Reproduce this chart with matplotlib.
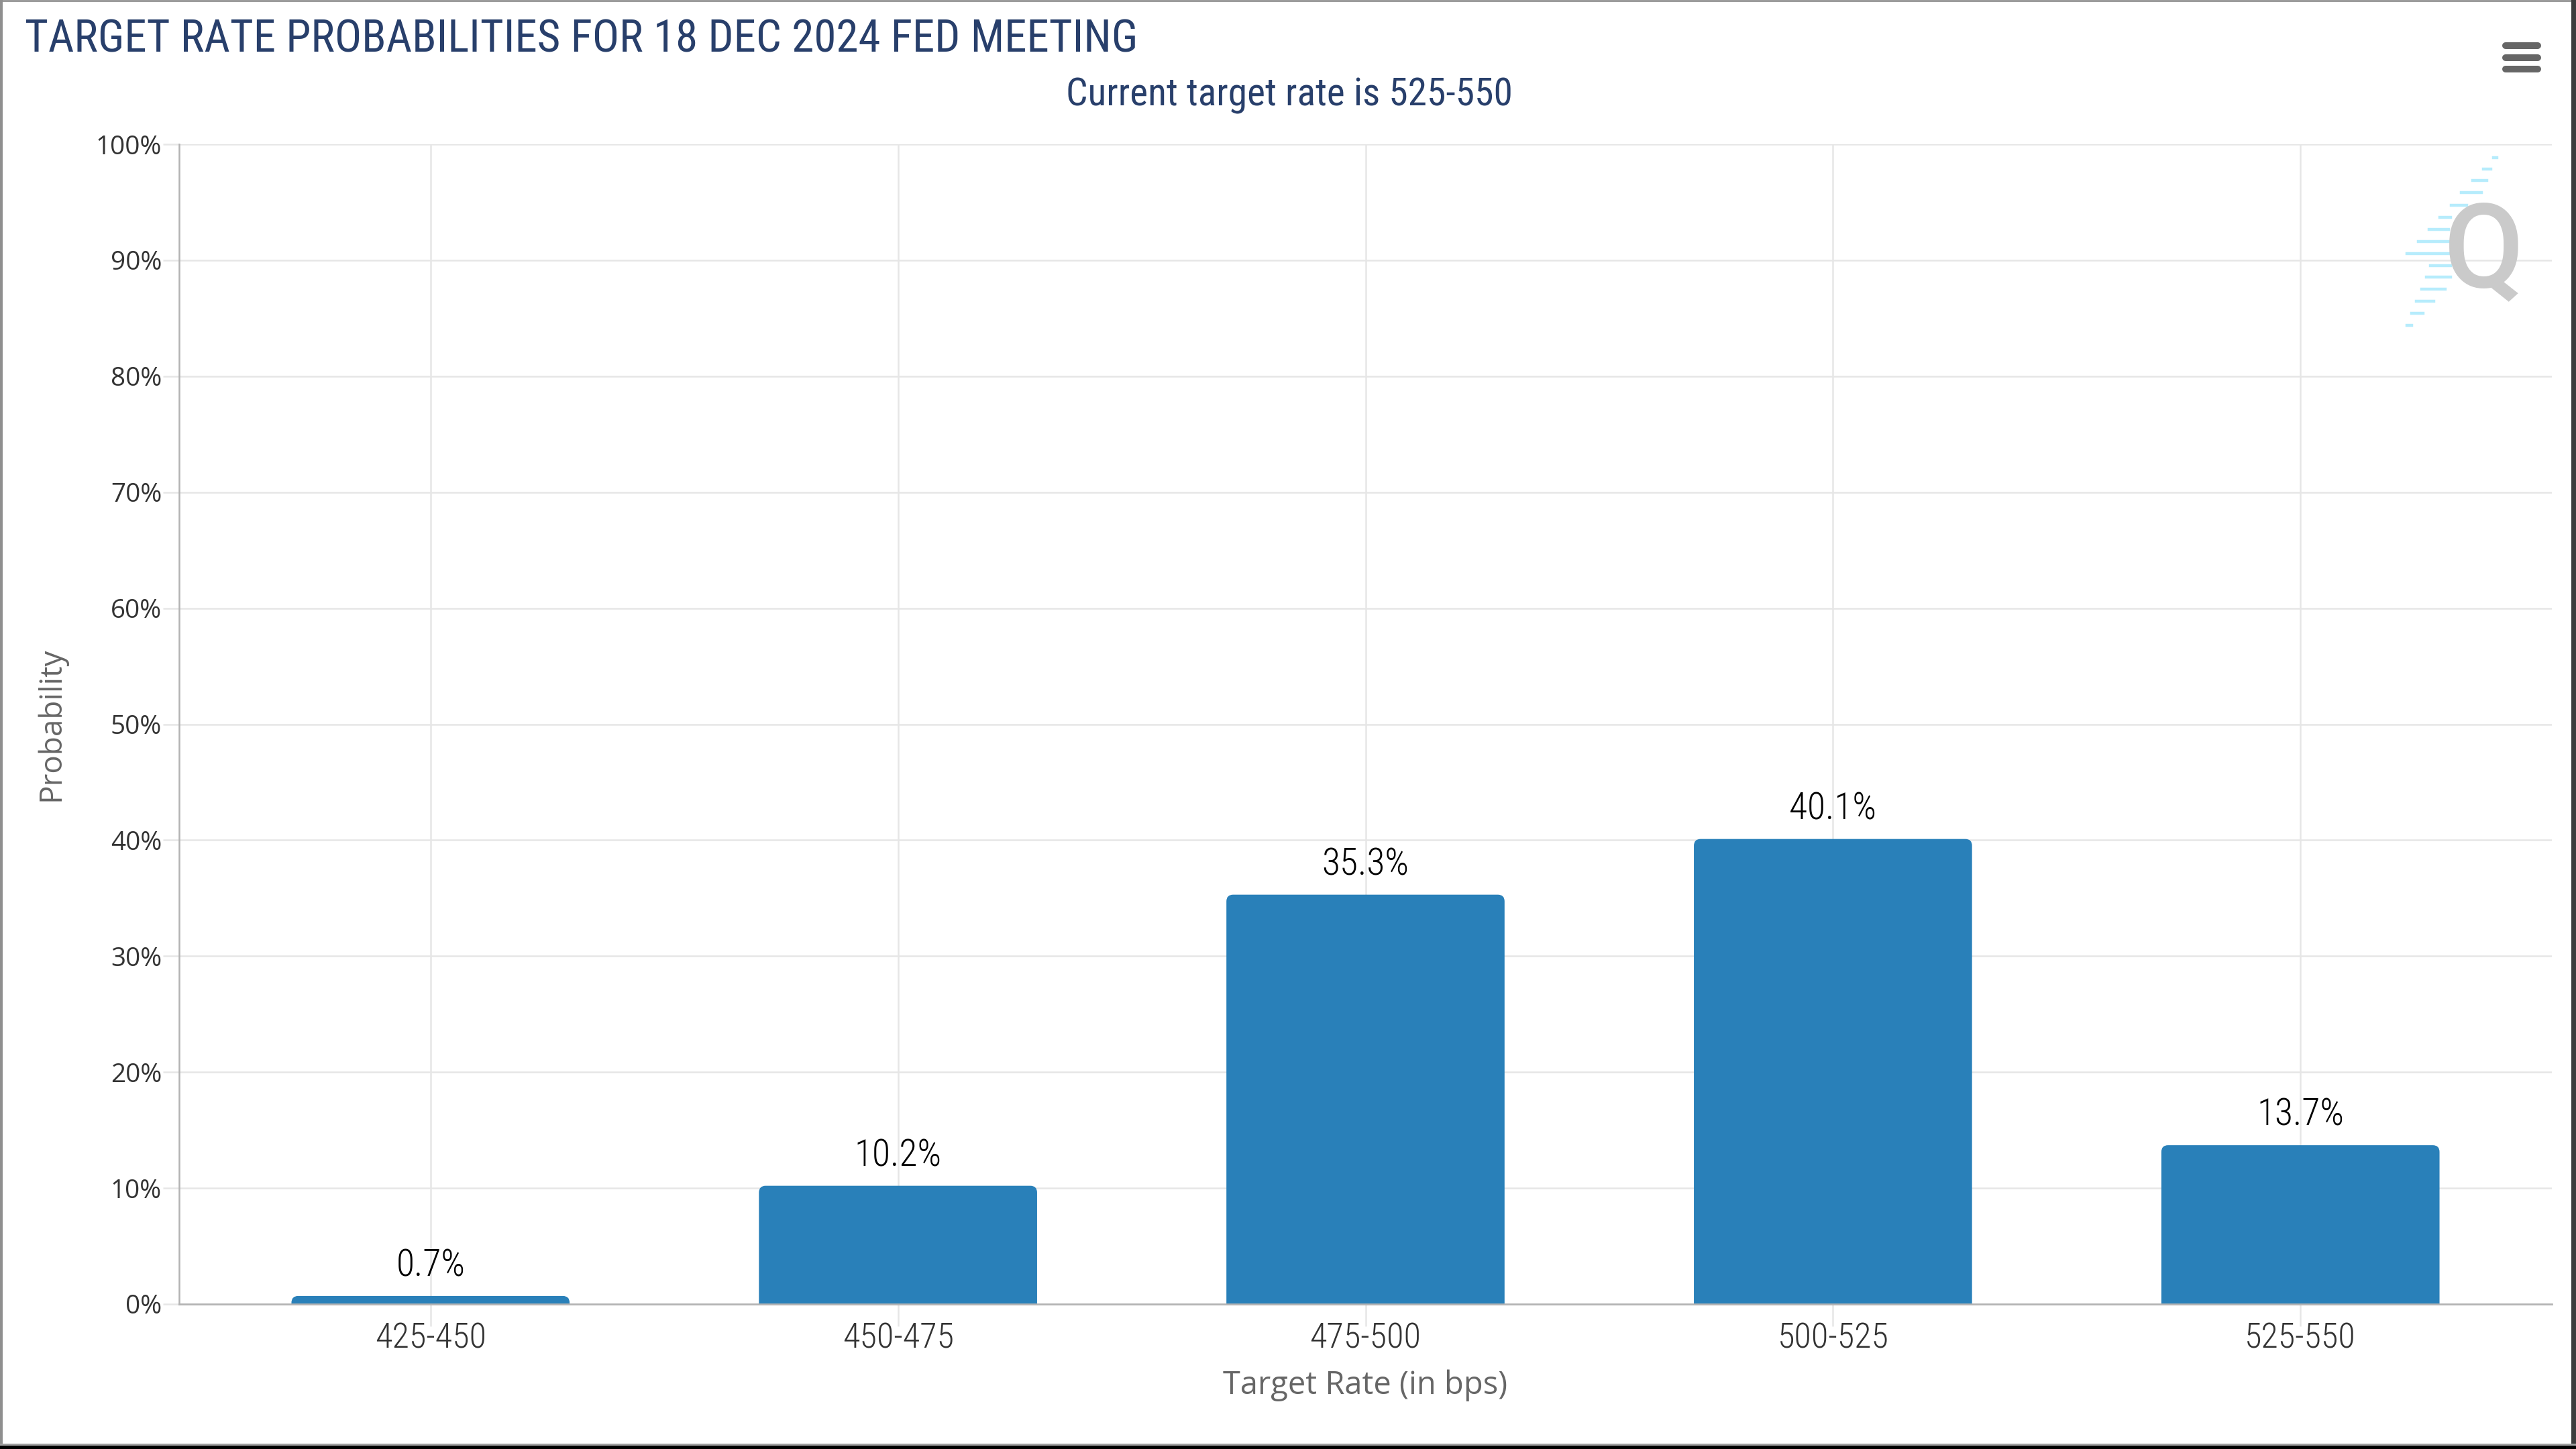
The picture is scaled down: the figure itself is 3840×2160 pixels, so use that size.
import matplotlib
matplotlib.use("Agg")
import matplotlib.pyplot as plt
from matplotlib.patches import FancyBboxPatch, Rectangle
from matplotlib.lines import Line2D

# ---------------- data ----------------
categories = ["425-450", "450-475", "475-500", "500-525", "525-550"]
probabilities = [0.7, 10.2, 35.3, 40.1, 13.7]
y_ticks = [0, 10, 20, 30, 40, 50, 60, 70, 80, 90, 100]
y_tick_labels = [f"{v}%" for v in y_ticks]
title_text = "TARGET RATE PROBABILITIES FOR 18 DEC 2024 FED MEETING"
subtitle_text = "Current target rate is 525-550"
xlabel_text = "Target Rate (in bps)"
ylabel_text = "Probability"

# ---------------- style ----------------
W, H = 3840, 2160
BAR = "#2980b9"
NAVY = "#283f6b"
GRID = "#e6e6e6"
AXIS = "#b3b3b3"
COND = ["Roboto Condensed", "Liberation Sans Narrow", "Roboto"]
CW = "light"
TW = "normal"
NORMAL = ["Open Sans", "DejaVu Sans"]


def fx(px):
    return px / W


def fy(py):
    return 1 - py / H


fig = plt.figure(figsize=(W / 100, H / 100), dpi=100)
fig.patch.set_facecolor("white")
renderer = fig.canvas.get_renderer()


def fit_size(s, family, target_w, weight="normal"):
    t = fig.text(0, 0, s, fontsize=100, family=family, fontweight=weight)
    w = t.get_window_extent(renderer).width
    t.remove()
    return 100 * target_w / w


fs_title = fit_size(title_text, COND, 1658, TW)
fs_sub = fit_size(subtitle_text, COND, 666, TW)
fs_xt = fit_size(categories[0], COND, 166, CW)
fs_yt = fit_size("100%", NORMAL, 98)
fs_xl = fit_size(xlabel_text, NORMAL, 424)
fs_yl = fit_size(ylabel_text, NORMAL, 230)
fs_dl = fit_size("40.1%", COND, 130, CW)

# ---------------- axes ----------------
L, R, T, B = 267, 3804, 215, 1944
ax = fig.add_axes([fx(L), fy(B), (R - L) / W, (B - T) / H])
ax.set_facecolor("white")

x = list(range(len(categories)))
bars = ax.bar(x, probabilities, width=0.595, color=BAR, zorder=2)
ax.set_xlim(-0.5378, len(categories) - 1 + 0.5378)
ax.set_ylim(0, 100)

# rounded top corners
p0 = ax.transData.transform((0, 0))
p1 = ax.transData.transform((1, 1))
r_px = 10
rx = r_px / (p1[0] - p0[0])
ry = r_px / (p1[1] - p0[1])
for rect in bars:
    rect.set_visible(False)
    patch = FancyBboxPatch(
        (rect.get_x(), -ry), rect.get_width(), rect.get_height() + ry,
        boxstyle=f"round,pad=0,rounding_size={rx}",
        mutation_aspect=ry / rx, fc=BAR, ec="none", zorder=2,
    )
    ax.add_patch(patch)

ax.set_axisbelow(True)
ax.grid(True, axis="both", color=GRID, linewidth=1.8, zorder=0)

ax.set_xticks(x, categories)
ax.set_yticks(y_ticks, y_tick_labels)
ax.tick_params(axis="x", length=24, width=1.8, color=GRID, pad=22.8,
               labelcolor="#333333", labelsize=fs_xt)
ax.tick_params(axis="y", length=17.6, width=1.8, color=GRID, pad=1,
               labelcolor="#333333", labelsize=fs_yt)
for lbl in ax.get_xticklabels():
    lbl.set_fontfamily(COND)
    lbl.set_fontweight(CW)
    lbl.set_va("baseline")
for lbl in ax.get_yticklabels():
    lbl.set_fontfamily(NORMAL)

for side in ("top", "right"):
    ax.spines[side].set_visible(False)
ax.spines["left"].set_color(AXIS)
ax.spines["left"].set_linewidth(1.8)
ax.spines["bottom"].set_color(AXIS)
ax.spines["bottom"].set_linewidth(2.0)
ax.spines["left"].set_zorder(3)
ax.spines["bottom"].set_zorder(3)

# data labels
for xi, v in zip(x, probabilities):
    ax.annotate(f"{v}%", xy=(xi, v), xytext=(0, 21), textcoords="offset points",
                ha="center", va="baseline", color="black", fontsize=fs_dl,
                family=COND, fontweight=CW, zorder=4)

# axis labels
ax.set_xlabel(xlabel_text, fontsize=fs_xl, color="#666666", family=NORMAL)
ax.xaxis.label.set_va("baseline")
ax.xaxis.set_label_coords(fx((L + R) / 2), fy(2078), transform=fig.transFigure)

ax.set_ylabel(ylabel_text, fontsize=fs_yl, color="#666666", family=NORMAL)
ax.yaxis.label.set(va="center", ha="center", rotation_mode="default")
ax.yaxis.set_label_coords(fx(76), fy((T + B) / 2), transform=fig.transFigure)

# titles
fig.text(fx(37), fy(78), title_text, ha="left", va="baseline", color=NAVY,
         fontsize=fs_title, family=COND, fontweight=TW)
fig.text(fx(1922), fy(158), subtitle_text, ha="center", va="baseline", color=NAVY,
         fontsize=fs_sub, family=COND, fontweight=TW)

# hamburger menu icon
for yc in (68, 86, 103):
    fig.add_artist(Line2D([fx(3735), fx(3783)], [fy(yc), fy(yc)],
                          transform=fig.transFigure, lw=7.2, color="#666666",
                          solid_capstyle="round"))

# watermark
dashes = [(235, 3717, 3722), (252, 3702, 3713), (269, 3686, 3707), (287, 3669, 3699),
          (306, 3654, 3677), (324, 3637, 3653), (342, 3621, 3650), (360, 3605, 3650),
          (378, 3588, 3650), (396, 3623, 3653), (413, 3617, 3653), (431, 3610, 3645),
          (449, 3602, 3628), (467, 3595, 3612), (485, 3588, 3595)]
for yy, xl, xr in dashes:
    fig.add_artist(Line2D([fx(xl), fx(xr)], [fy(yy), fy(yy)], transform=fig.transFigure,
                          lw=3.2, color="#b6ecfc", zorder=1))
fig.text(fx(3703), fy(427), "Q", ha="center", va="baseline", color="#cacaca",
         fontsize=125, family=["Roboto", "DejaVu Sans"], fontweight="medium", zorder=2)

# frame
frame = [((0, 0), W, 3, "#9c9c9c"), ((0, 0), 4, H, "#8f8f8f"),
         ((W - 7, 0), 7, H, "#3c3c3c"), ((0, H - 8), W, 3, "#a0a0a0"),
         ((0, H - 5), W, 5, "#000000")]
for (px0, py0), w, h, c in frame:
    fig.add_artist(Rectangle((fx(px0), fy(py0 + h)), w / W, h / H,
                             transform=fig.transFigure, color=c, lw=0, zorder=10))

fig.savefig("out.png", dpi=100, facecolor="white")
